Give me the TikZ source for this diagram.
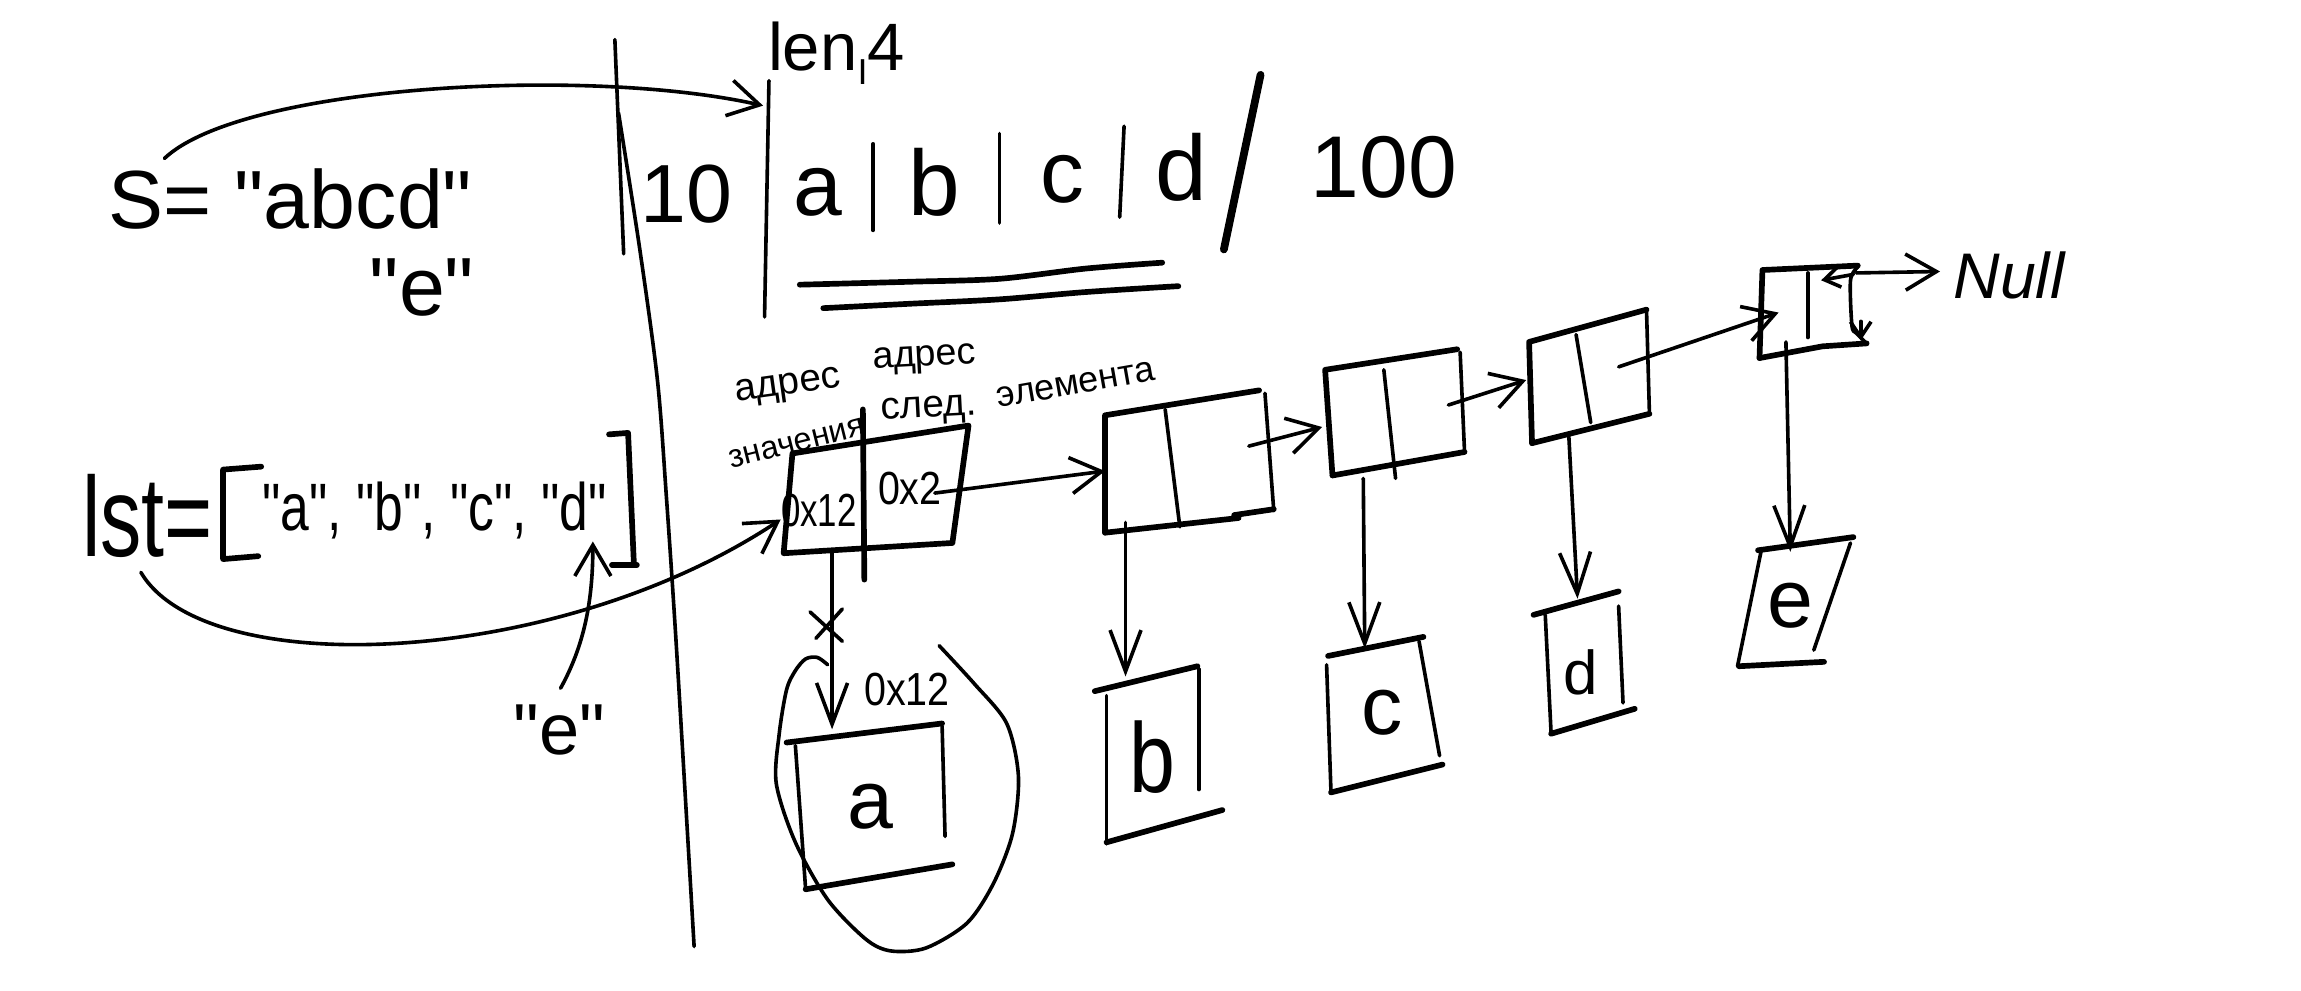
\documentclass[tikz,border=0pt]{standalone}
\usepackage{graphicx}
\usepackage{fontspec}
\setmainfont{Liberation Sans}
\newfontfamily\handfont{Liberation Sans}
\usetikzlibrary{arrows.meta}
\newcommand{\myfs}[1]{\fontsize{#1}{#1}\selectfont}
\begin{document}
\begin{tikzpicture}[x=0.1mm,y=-0.1mm,
  every node/.append style={font=\handfont},
  ln/.style={line width=0.7pt, line cap=round, line join=round},
  thk/.style={line width=1.1pt, line cap=round, line join=round},
  arr/.style={ln, -{Straight Barb[length=6pt,width=7pt]}},
  darr/.style={ln, -{Straight Barb[length=8pt,width=6pt]}},
  txt/.style={inner sep=0pt, outer sep=0pt}]
\useasboundingbox (0,0) rectangle (1568,675);

% ---------- left: string ----------
\node[txt, anchor=base west] (sdef) at (74,156) {\myfs{16}S= "abcd"};
\node[txt, anchor=base west] (eq1) at (252,215) {\myfs{16}"e"};
\coordinate (sA) at (112,108);
\coordinate (sB) at (520,72);
\draw[arr] (sA) .. controls (165,58) and (400,45) .. (sB);

% ---------- divider ----------
\coordinate (v1) at (419,27);
\coordinate (v2) at (425,173);
\draw[ln] (v1) -- (v2);
\draw[ln] plot[smooth] coordinates {(421.5,77) (436,170) (448,259) (454,337) (461,442) (473,645)};

% ---------- memory strip ----------
\draw[ln] (524,55) -- (521,216);
\node[txt] (m10) at (468,132) {\myfs{16}10};
\node[txt] (ma) at (557,131) {\myfs{17}a};
\node[txt] (mb) at (637,124) {\myfs{18}b};
\node[txt] (mc) at (724,122) {\myfs{17}c};
\node[txt] (md) at (805,114) {\myfs{18}d};
\draw[ln] (595,98) -- (595,157);
\draw[ln] (681,91) -- (681,152);
\draw[ln] (766,86) -- (763,148);
\draw[line width=1.5pt, line cap=round] (859,51) -- (834,170);
\node[txt] (m100) at (943,114) {\myfs{17}100};
\node[txt] (len) at (570,36) {\myfs{13}len\raisebox{-0.4ex}{\myfs{7}I}4};
\draw[thk] plot[smooth] coordinates {(545,194) (620,192) (681,190) (740,183) (792,179)};
\draw[thk] plot[smooth] coordinates {(561,210) (620,207) (681,204) (740,199) (803,195)};

% ---------- left: list ----------
\node[txt, anchor=base west] (lst) at (56,379) {\scalebox{0.8}[1.1]{\myfs{20}lst=}};
\draw[thk] (178,318) -- (152,320) -- (152,381) -- (176,379);
\draw[thk] (415,296) -- (428,295) -- (432,385);
\draw[thk] (417,385) -- (434,385);
\node[txt] (items) at (296,348) {\scalebox{1}[1.3]{\myfs{10}"a", "b", "c", "d"}};
\coordinate (lA) at (96,390);
\coordinate (n1in) at (532,354);
\draw[arr] (lA) .. controls (140,465) and (380,455) .. (n1in);
\node[txt, anchor=base west] (eq2) at (350,514) {\myfs{14}"e"};
\coordinate (eA) at (382,469);
\coordinate (eB) at (404,369);
\draw[arr] (eA) .. controls (398,440) and (404,410) .. (eB);

% ---------- node 1 ----------
\draw[thk] (534,377) -- (540,309) -- (660,290) -- (649,370) -- cycle;
\draw[thk] (588,279) -- (589,395);
\node[txt] (a12) at (558,348) {\myfs{9}\scalebox{0.75}[1]{0x12}};
\node[txt] (a2) at (620,333) {\myfs{9}\scalebox{0.85}[1]{0x2}};
\node[txt, rotate=8] (lab1) at (537,264) {\myfs{7.5}адрес};
\node[txt, rotate=14] (lab2) at (543,302) {\myfs{6.3}значения};
\node[txt, rotate=3] (lab3) at (630,245) {\myfs{7.3}адрес};
\node[txt, rotate=3] (lab4) at (633,280) {\myfs{7.5}след.};
\node[txt, rotate=10] (lab5) at (733,262) {\myfs{7}элемента};
\coordinate (p1) at (637,336);
\coordinate (b2in) at (753,321);
\draw[arr] (p1) -- (b2in);

% value a
\coordinate (d1a) at (567,376);
\coordinate (d1b) at (567,497);
\draw[darr] (d1a) -- (d1b);
\draw[ln] (552,417) -- (574,437);
\draw[ln] (574,415) -- (556,435);
\node[txt] (l012) at (618,470) {\myfs{9}\scalebox{0.85}[1]{0x12}};
\draw[thk] (536,506) -- (642,493);
\draw[ln] (542,508) -- (549,606);
\draw[ln] (642,495) -- (644,570);
\draw[thk] (549,606) -- (649,589);
\node[txt] (va) at (593,550) {\myfs{16}a};
\draw[ln] plot[smooth] coordinates {(640,440) (664,466) (686,493) (694,529) (690,568) (677,602) (659,629) (631,646) (607,648) (590,640) (564,613) (542,574) (529,534) (531,500) (536,470) (542,457) (549,449) (557,448) (564,453)};

% ---------- node 2 ----------
\draw[thk] (753,363) -- (753,283) -- (858,266);
\draw[ln] (862,268) -- (868,348);
\draw[thk] (753,363) -- (844,353);
\draw[thk] (841,351) -- (868,347);
\draw[ln] (794,279) -- (804,359);
\coordinate (p2) at (851,304);
\coordinate (b3in) at (901,291);
\draw[arr] (p2) -- (b3in);
\coordinate (d2a) at (767,356);
\coordinate (d2b) at (767,461);
\draw[darr] (d2a) -- (d2b);
\draw[thk] (746,471) -- (816,454);
\draw[ln] (754,474) -- (754,575);
\draw[ln] (817,456) -- (817,538);
\draw[thk] (754,574) -- (833,552);
\node[txt] (vb) at (785,516) {\scalebox{1}[1.2]{\myfs{16}b}};

% ---------- node 3 ----------
\draw[thk] (908,324) -- (903,252) -- (993,238);
\draw[ln] (995,240) -- (998,308);
\draw[thk] (998,308) -- (908,324);
\draw[ln] (943,252) -- (951,326);
\coordinate (p3) at (987,276);
\coordinate (b4in) at (1040,259);
\draw[arr] (p3) -- (b4in);
\coordinate (d3a) at (929,326);
\coordinate (d3b) at (930,442);
\draw[darr] (d3a) -- (d3b);
\draw[thk] (905,447) -- (970,434);
\draw[ln] (904,453) -- (907,540);
\draw[ln] (967,437) -- (981,515);
\draw[thk] (907,540) -- (983,521);
\node[txt] (vc) at (942,486) {\myfs{16}c};

% ---------- node 4 ----------
\draw[thk] (1044,302) -- (1042,233) -- (1122,211);
\draw[ln] (1122,211) -- (1124,282);
\draw[thk] (1124,282) -- (1044,302);
\draw[ln] (1074,228) -- (1084,288);
\coordinate (p4) at (1103,250);
\coordinate (b5in) at (1212,213);
\draw[arr] (p4) -- (b5in);
\coordinate (d4a) at (1069,296);
\coordinate (d4b) at (1075,408);
\draw[darr] (d4a) -- (d4b);
\draw[thk] (1045,419) -- (1103,403);
\draw[ln] (1053,419) -- (1057,500);
\draw[ln] (1103,413) -- (1106,479);
\draw[thk] (1057,500) -- (1114,483);
\node[txt] (vd) at (1077,458) {\myfs{12}d};

% ---------- node 5 ----------
\draw[thk] (1199,244) -- (1201,184) -- (1266,181);
\draw[ln] plot[smooth] coordinates {(1266,182) (1261,191) (1262,222) (1265,227) (1272,234)};
\draw[thk] (1272,234) -- (1242,236) -- (1199,244);
\draw[ln] (1232,186) -- (1232,230);
\draw[ln, -{Straight Barb[length=3pt,width=4pt]}] (1263,187) -- (1241,191);
\draw[ln, -{Straight Barb[length=3pt,width=4pt]}] (1268,219) -- (1268,232);
\coordinate (p5) at (1265,186);
\coordinate (nullin) at (1322,185);
\draw[arr] (p5) -- (nullin);
\node[txt] (null) at (1369,188) {\myfs{12.5}\itshape Null};
\coordinate (d5a) at (1217,233);
\coordinate (d5b) at (1220,376);
\draw[darr] (d5a) -- (d5b);
\draw[thk] (1198,375) -- (1263,366);
\draw[ln] (1200,376) -- (1184,454);
\draw[ln] (1261,370) -- (1236,443);
\draw[thk] (1185,454) -- (1243,451);
\node[txt] (ve) at (1220,413) {\myfs{16}e};
\end{tikzpicture}
\end{document}
